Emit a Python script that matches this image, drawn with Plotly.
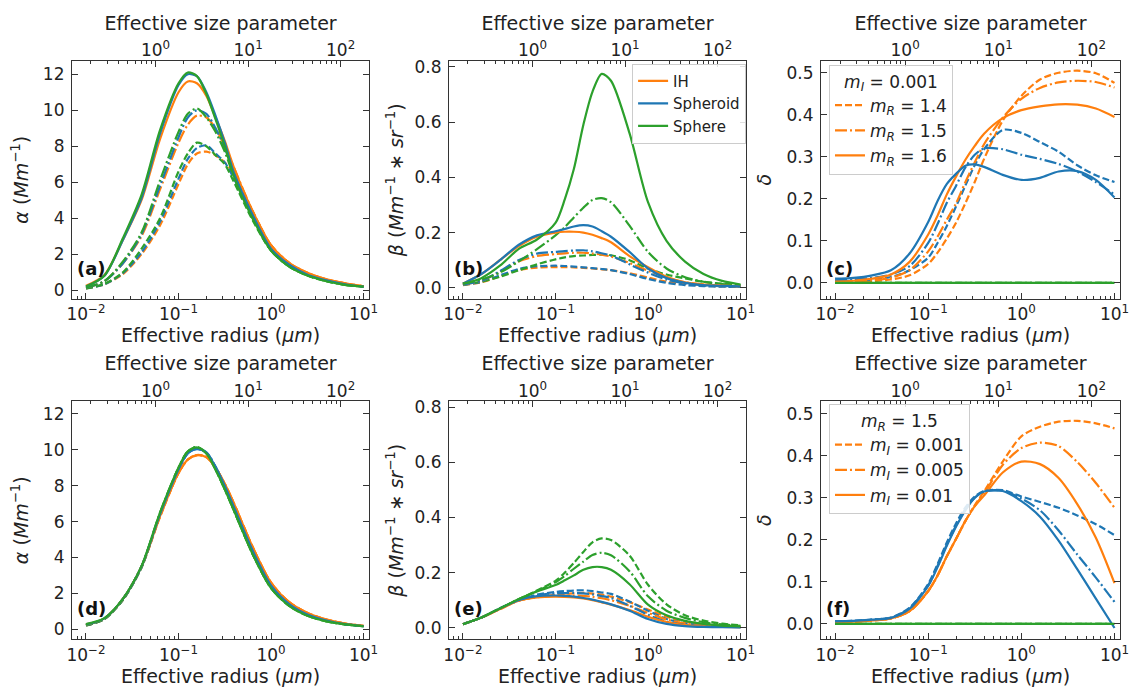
import math
import plotly.graph_objects as go

# ---------------- data ----------------
r_eff = [0.01, 0.0158, 0.0251, 0.0398, 0.0631, 0.1, 0.126, 0.158, 0.2, 0.251,
         0.316, 0.398, 0.631, 1.0, 1.585, 2.512, 3.981, 6.31, 10.0]
wavelength_um = 0.355

# (a) extinction alpha, mI = 0.001, mR = 1.4 / 1.5 / 1.6
a_IH_14 = [0.1, 0.33, 0.9, 2.0, 3.6, 5.9, 7.0, 7.6, 7.7, 7.5, 7.1, 6.5, 4.4, 2.5, 1.5, 0.95, 0.6, 0.38, 0.22]
a_SPD_14 = [0.1, 0.33, 0.95, 2.1, 3.8, 6.2, 7.3, 7.9, 8.05, 7.6, 7.1, 6.2, 4.1, 2.3, 1.4, 0.85, 0.55, 0.33, 0.2]
a_SPH_14 = [0.1, 0.35, 1.0, 2.3, 4.0, 6.6, 7.6, 8.2, 8.0, 7.5, 7.0, 6.0, 3.9, 2.2, 1.3, 0.8, 0.5, 0.3, 0.2]
a_IH_15 = [0.15, 0.5, 1.5, 3.0, 5.6, 8.2, 9.2, 9.7, 9.6, 9.0, 8.0, 6.8, 4.4, 2.5, 1.5, 0.95, 0.6, 0.38, 0.22]
a_SPD_15 = [0.15, 0.5, 1.5, 3.1, 5.8, 8.5, 9.6, 10.0, 9.8, 9.0, 7.9, 6.5, 4.2, 2.3, 1.4, 0.85, 0.55, 0.33, 0.2]
a_SPH_15 = [0.15, 0.5, 1.6, 3.2, 6.1, 8.8, 9.8, 10.1, 9.6, 8.8, 7.7, 6.3, 4.0, 2.2, 1.3, 0.8, 0.5, 0.3, 0.2]
a_IH_16 = [0.25, 0.85, 2.8, 5.0, 8.4, 11.0, 11.6, 11.5, 10.8, 9.6, 8.3, 6.8, 4.4, 2.5, 1.5, 0.95, 0.6, 0.38, 0.22]
a_SPD_16 = [0.2, 0.8, 2.8, 5.1, 8.7, 11.4, 12.0, 11.9, 11.0, 9.7, 8.2, 6.5, 4.2, 2.3, 1.4, 0.85, 0.55, 0.33, 0.2]
a_SPH_16 = [0.2, 0.8, 2.9, 5.3, 8.9, 11.5, 12.1, 11.9, 10.9, 9.5, 8.0, 6.3, 4.0, 2.2, 1.3, 0.8, 0.5, 0.3, 0.2]

# (b) backscatter beta
b_IH_14 = [0.01, 0.02, 0.042, 0.064, 0.073, 0.075, 0.075, 0.074, 0.072, 0.07, 0.067, 0.064, 0.053, 0.037, 0.022, 0.013, 0.008, 0.005, 0.004]
b_SPD_14 = [0.01, 0.022, 0.045, 0.068, 0.078, 0.08, 0.079, 0.077, 0.074, 0.071, 0.068, 0.064, 0.05, 0.032, 0.018, 0.01, 0.006, 0.004, 0.003]
b_SPH_14 = [0.012, 0.022, 0.04, 0.063, 0.085, 0.103, 0.11, 0.115, 0.117, 0.119, 0.12, 0.118, 0.1, 0.07, 0.048, 0.034, 0.022, 0.015, 0.01]
b_IH_15 = [0.012, 0.025, 0.058, 0.095, 0.115, 0.122, 0.125, 0.127, 0.127, 0.124, 0.12, 0.113, 0.09, 0.062, 0.037, 0.02, 0.012, 0.008, 0.005]
b_SPD_15 = [0.012, 0.025, 0.06, 0.1, 0.124, 0.13, 0.133, 0.135, 0.136, 0.132, 0.125, 0.117, 0.085, 0.055, 0.03, 0.016, 0.009, 0.006, 0.004]
b_SPH_15 = [0.015, 0.03, 0.055, 0.095, 0.14, 0.19, 0.22, 0.255, 0.29, 0.318, 0.325, 0.31, 0.225, 0.13, 0.07, 0.038, 0.022, 0.013, 0.008]
b_IH_16 = [0.015, 0.05, 0.1, 0.15, 0.185, 0.2, 0.203, 0.203, 0.2, 0.192, 0.18, 0.165, 0.115, 0.075, 0.04, 0.02, 0.012, 0.008, 0.006]
b_SPD_16 = [0.015, 0.05, 0.1, 0.155, 0.19, 0.205, 0.213, 0.222, 0.227, 0.222, 0.205, 0.185, 0.13, 0.07, 0.035, 0.018, 0.01, 0.007, 0.005]
b_SPH_16 = [0.015, 0.035, 0.08, 0.14, 0.175, 0.235, 0.32, 0.43, 0.59, 0.71, 0.775, 0.75, 0.56, 0.31, 0.17, 0.095, 0.05, 0.025, 0.012]

# (c) depolarization delta
c_IH_14 = [0.002, 0.003, 0.004, 0.008, 0.018, 0.045, 0.072, 0.105, 0.144, 0.19, 0.24, 0.295, 0.386, 0.445, 0.484, 0.5, 0.505, 0.499, 0.476]
c_SPD_14 = [0.004, 0.005, 0.008, 0.014, 0.03, 0.06, 0.095, 0.135, 0.183, 0.232, 0.28, 0.318, 0.364, 0.357, 0.335, 0.312, 0.28, 0.256, 0.24]
c_SPH_14 = [0.0] * 19
c_IH_15 = [0.002, 0.003, 0.006, 0.012, 0.03, 0.075, 0.11, 0.15, 0.19, 0.24, 0.287, 0.33, 0.393, 0.438, 0.464, 0.477, 0.481, 0.478, 0.465]
c_SPD_15 = [0.006, 0.008, 0.012, 0.02, 0.04, 0.095, 0.14, 0.19, 0.232, 0.275, 0.305, 0.32, 0.318, 0.305, 0.295, 0.283, 0.265, 0.24, 0.21]
c_SPH_15 = [0.0] * 19
c_IH_16 = [0.003, 0.005, 0.01, 0.02, 0.05, 0.115, 0.16, 0.21, 0.254, 0.293, 0.326, 0.355, 0.392, 0.411, 0.42, 0.425, 0.424, 0.415, 0.395]
c_SPD_16 = [0.01, 0.012, 0.018, 0.03, 0.07, 0.145, 0.195, 0.235, 0.26, 0.279, 0.282, 0.276, 0.257, 0.245, 0.25, 0.265, 0.266, 0.245, 0.203]
c_SPH_16 = [0.0] * 19

# (d) alpha, mR = 1.5, mI = 0.001 / 0.005 / 0.01
d_IH_001 = [0.22, 0.58, 1.65, 3.45, 6.25, 8.7, 9.45, 9.7, 9.6, 9.0, 8.1, 7.0, 4.6, 2.6, 1.5, 0.9, 0.55, 0.33, 0.2]
d_SPD_001 = [0.22, 0.58, 1.65, 3.45, 6.35, 8.9, 9.8, 10.05, 9.85, 9.05, 8.0, 6.8, 4.4, 2.45, 1.4, 0.82, 0.5, 0.3, 0.19]
d_SPH_001 = [0.22, 0.58, 1.65, 3.45, 6.45, 9.0, 9.9, 10.15, 9.8, 8.9, 7.8, 6.6, 4.2, 2.3, 1.3, 0.75, 0.45, 0.28, 0.18]
d_IH_005 = [0.25, 0.6, 1.7, 3.5, 6.3, 8.7, 9.45, 9.7, 9.6, 9.0, 8.1, 7.0, 4.6, 2.6, 1.5, 0.9, 0.55, 0.33, 0.2]
d_SPD_005 = [0.25, 0.6, 1.7, 3.5, 6.4, 8.9, 9.8, 10.05, 9.85, 9.05, 8.0, 6.8, 4.4, 2.45, 1.4, 0.82, 0.5, 0.3, 0.19]
d_SPH_005 = [0.25, 0.6, 1.7, 3.5, 6.5, 9.0, 9.9, 10.15, 9.8, 8.9, 7.8, 6.6, 4.2, 2.3, 1.3, 0.75, 0.45, 0.28, 0.18]
d_IH_01 = [0.28, 0.62, 1.7, 3.5, 6.3, 8.7, 9.45, 9.68, 9.58, 9.0, 8.1, 7.0, 4.6, 2.6, 1.5, 0.9, 0.55, 0.33, 0.2]
d_SPD_01 = [0.28, 0.62, 1.7, 3.5, 6.4, 8.9, 9.8, 10.03, 9.83, 9.05, 8.0, 6.8, 4.4, 2.45, 1.4, 0.82, 0.5, 0.3, 0.19]
d_SPH_01 = [0.3, 0.63, 1.72, 3.52, 6.5, 9.0, 9.9, 10.12, 9.78, 8.9, 7.8, 6.6, 4.2, 2.3, 1.3, 0.75, 0.45, 0.28, 0.18]

# (e) beta
e_IH_001 = [0.013, 0.037, 0.068, 0.098, 0.112, 0.12, 0.123, 0.125, 0.127, 0.124, 0.12, 0.113, 0.093, 0.066, 0.04, 0.022, 0.013, 0.008, 0.005]
e_SPD_001 = [0.013, 0.037, 0.07, 0.1, 0.12, 0.13, 0.133, 0.135, 0.136, 0.133, 0.128, 0.123, 0.095, 0.062, 0.032, 0.016, 0.009, 0.005, 0.003]
e_SPH_001 = [0.013, 0.037, 0.07, 0.103, 0.135, 0.17, 0.2, 0.235, 0.275, 0.31, 0.324, 0.318, 0.262, 0.156, 0.085, 0.045, 0.026, 0.015, 0.009]
e_IH_005 = [0.013, 0.037, 0.068, 0.098, 0.111, 0.116, 0.117, 0.117, 0.116, 0.112, 0.107, 0.1, 0.08, 0.054, 0.03, 0.016, 0.009, 0.005, 0.003]
e_SPD_005 = [0.013, 0.037, 0.07, 0.1, 0.118, 0.125, 0.126, 0.126, 0.125, 0.121, 0.115, 0.108, 0.08, 0.047, 0.022, 0.011, 0.006, 0.004, 0.002]
e_SPH_005 = [0.013, 0.037, 0.07, 0.103, 0.133, 0.165, 0.188, 0.214, 0.24, 0.264, 0.272, 0.263, 0.205, 0.114, 0.062, 0.036, 0.02, 0.012, 0.007]
e_IH_01 = [0.013, 0.037, 0.068, 0.098, 0.11, 0.113, 0.112, 0.11, 0.106, 0.1, 0.092, 0.084, 0.064, 0.04, 0.021, 0.01, 0.005, 0.003, 0.002]
e_SPD_01 = [0.013, 0.037, 0.07, 0.1, 0.115, 0.117, 0.116, 0.113, 0.108, 0.102, 0.094, 0.085, 0.062, 0.032, 0.014, 0.006, 0.003, 0.002, 0.001]
e_SPH_01 = [0.013, 0.037, 0.07, 0.103, 0.132, 0.155, 0.172, 0.19, 0.21, 0.22, 0.22, 0.21, 0.158, 0.084, 0.045, 0.025, 0.014, 0.008, 0.005]

# (f) delta
f_IH_001 = [0.004, 0.005, 0.008, 0.013, 0.03, 0.078, 0.115, 0.16, 0.203, 0.245, 0.282, 0.315, 0.386, 0.446, 0.469, 0.481, 0.483, 0.477, 0.465]
f_SPD_001 = [0.006, 0.007, 0.01, 0.015, 0.038, 0.095, 0.142, 0.193, 0.24, 0.277, 0.303, 0.316, 0.318, 0.303, 0.29, 0.276, 0.258, 0.237, 0.211]
f_SPH_001 = [0.0] * 19
f_IH_005 = [0.004, 0.005, 0.008, 0.013, 0.03, 0.078, 0.115, 0.16, 0.203, 0.245, 0.28, 0.31, 0.378, 0.418, 0.431, 0.423, 0.385, 0.335, 0.276]
f_SPD_005 = [0.006, 0.007, 0.01, 0.014, 0.037, 0.092, 0.138, 0.188, 0.235, 0.273, 0.3, 0.315, 0.317, 0.298, 0.27, 0.222, 0.165, 0.11, 0.052]
f_SPH_005 = [0.0] * 19
f_IH_01 = [0.004, 0.005, 0.008, 0.013, 0.03, 0.078, 0.115, 0.16, 0.203, 0.245, 0.28, 0.305, 0.36, 0.386, 0.38, 0.347, 0.285, 0.205, 0.097]
f_SPD_01 = [0.006, 0.007, 0.01, 0.014, 0.036, 0.09, 0.135, 0.185, 0.232, 0.27, 0.3, 0.315, 0.316, 0.292, 0.255, 0.198, 0.13, 0.06, -0.01]
f_SPH_01 = [0.0] * 19

model_names = ["IH", "Spheroid", "Sphere"]
top_labels = ["<i>m</i><sub><i>R</i></sub> = 1.4", "<i>m</i><sub><i>R</i></sub> = 1.5", "<i>m</i><sub><i>R</i></sub> = 1.6"]
bot_labels = ["<i>m</i><sub><i>I</i></sub> = 0.001", "<i>m</i><sub><i>I</i></sub> = 0.005", "<i>m</i><sub><i>I</i></sub> = 0.01"]
x_ticks = [0.01, 0.1, 1, 10]
x_ticktext = ["10<sup>−2</sup>", "10<sup>−1</sup>", "10<sup>0</sup>", "10<sup>1</sup>"]
sp_ticks = [1, 10, 100]
sp_ticktext = ["10<sup>0</sup>", "10<sup>1</sup>", "10<sup>2</sup>"]
alpha_ticks = [0, 2, 4, 6, 8, 10, 12]
beta_ticks = [0.0, 0.2, 0.4, 0.6, 0.8]
delta_ticks = [0.0, 0.1, 0.2, 0.3, 0.4, 0.5]

# ---------------- styling ----------------
ORANGE, BLUE, GREEN = "#ff7f0e", "#1f77b4", "#2ca02c"
COLORS = [ORANGE, BLUE, GREEN]
DASHES = ["7px,3px", "12px,3px,2px,3px", "solid"]
FONT = "DejaVu Sans"
TXT = "#222222"
AXC = "#333333"
W, H = 1135, 688
cols = [(67, 368), (449, 750), (826, 1129)]
rows = [(57, 297), (400, 640)]
xr = [-2.15, 1.06]
shift = math.log10(2 * math.pi / wavelength_um)
size_param = [2 * math.pi * r / wavelength_um for r in r_eff]

panels = [
    dict(tag="(a)", data=[[a_IH_14, a_SPD_14, a_SPH_14], [a_IH_15, a_SPD_15, a_SPH_15], [a_IH_16, a_SPD_16, a_SPH_16]],
         yr=[-0.48, 12.76], yt=alpha_ticks, fmt="{:d}", ytitle="<i>α</i> (<i>Mm</i><sup>−1</sup>)", so=9, row=0, col=0),
    dict(tag="(b)", data=[[b_IH_14, b_SPD_14, b_SPH_14], [b_IH_15, b_SPD_15, b_SPH_15], [b_IH_16, b_SPD_16, b_SPH_16]],
         yr=[-0.04, 0.823], yt=beta_ticks, fmt="{:.1f}",
         ytitle="<i>β</i> (<i>Mm</i><sup>−1</sup> ∗ <i>sr</i><sup>−1</sup>)", so=5, row=0, col=1),
    dict(tag="(c)", data=[[c_IH_14, c_SPD_14, c_SPH_14], [c_IH_15, c_SPD_15, c_SPH_15], [c_IH_16, c_SPD_16, c_SPH_16]],
         yr=[-0.038, 0.529], yt=delta_ticks, fmt="{:.1f}", ytitle="<i>δ</i>", so=9, row=0, col=2),
    dict(tag="(d)", data=[[d_IH_001, d_SPD_001, d_SPH_001], [d_IH_005, d_SPD_005, d_SPH_005], [d_IH_01, d_SPD_01, d_SPH_01]],
         yr=[-0.55, 12.7], yt=alpha_ticks, fmt="{:d}", ytitle="<i>α</i> (<i>Mm</i><sup>−1</sup>)", so=9, row=1, col=0),
    dict(tag="(e)", data=[[e_IH_001, e_SPD_001, e_SPH_001], [e_IH_005, e_SPD_005, e_SPH_005], [e_IH_01, e_SPD_01, e_SPH_01]],
         yr=[-0.042, 0.822], yt=beta_ticks, fmt="{:.1f}",
         ytitle="<i>β</i> (<i>Mm</i><sup>−1</sup> ∗ <i>sr</i><sup>−1</sup>)", so=5, row=1, col=1),
    dict(tag="(f)", data=[[f_IH_001, f_SPD_001, f_SPH_001], [f_IH_005, f_SPD_005, f_SPH_005], [f_IH_01, f_SPD_01, f_SPH_01]],
         yr=[-0.037, 0.530], yt=delta_ticks, fmt="{:.1f}", ytitle="<i>δ</i>", so=9, row=1, col=2),
]

minor_r = [m * 10.0 ** e for e in range(-3, 2) for m in range(2, 10)]
minor_sp = [m * 10.0 ** e for e in range(-2, 3) for m in range(2, 10)]


def sfx(n):
    return "" if n == 1 else str(n)


fig = go.Figure()
layout = dict(
    width=W, height=H, margin=dict(l=0, r=0, t=0, b=0),
    paper_bgcolor="white", plot_bgcolor="white",
    font=dict(family=FONT, size=17, color=TXT),
    annotations=[],
)

for i, p in enumerate(panels, start=1):
    xa, ya, xt = "x" + sfx(i), "y" + sfx(i), "x" + sfx(i + 6)
    c0, c1 = cols[p["col"]]
    r0, r1 = rows[p["row"]]
    for s in range(3):          # line style index
        for m in range(3):      # model (colour) index
            leg = None
            name = model_names[m]
            show = False
            if i == 2 and s == 2:
                leg, show = "legend", True
            elif i == 3 and m == 0:
                leg, show, name = "legend2", True, top_labels[s]
            elif i == 6 and m == 0:
                leg, show, name = "legend3", True, bot_labels[s]
            tr = dict(x=r_eff, y=p["data"][s][m], mode="lines", xaxis=xa, yaxis=ya,
                      line=dict(color=COLORS[m], width=2.2, dash=DASHES[s], shape="spline", smoothing=0.8),
                      name=name, showlegend=show, hoverinfo="skip")
            if leg:
                tr["legend"] = leg
            fig.add_trace(go.Scatter(**tr))
    # invisible trace tying the top (size parameter) axis
    fig.add_trace(go.Scatter(x=size_param, y=p["data"][2][2], mode="lines", xaxis=xt, yaxis=ya,
                             line=dict(width=0), opacity=0, showlegend=False, hoverinfo="skip"))

    layout["xaxis" + sfx(i)] = dict(
        domain=[c0 / W, c1 / W], anchor=ya, type="log", range=xr,
        tickmode="array", tickvals=x_ticks, ticktext=x_ticktext,
        ticks="inside", ticklen=6, tickwidth=1.2, tickcolor=AXC,
        minor=dict(tickmode="array", tickvals=minor_r, ticks="inside", ticklen=3, tickwidth=1, tickcolor=AXC, showgrid=False),
        showline=True, linecolor=AXC, linewidth=1.4, mirror=True,
        showgrid=False, zeroline=False, tickfont=dict(size=17),
        title=dict(text="Effective radius (<i>μm</i>)", font=dict(size=19), standoff=4),
    )
    layout["xaxis" + sfx(i + 6)] = dict(
        overlaying=xa, anchor=ya, side="top", type="log", range=[xr[0] + shift, xr[1] + shift],
        tickmode="array", tickvals=sp_ticks, ticktext=sp_ticktext,
        ticks="inside", ticklen=6, tickwidth=1.2, tickcolor=AXC,
        minor=dict(tickmode="array", tickvals=minor_sp, ticks="inside", ticklen=3, tickwidth=1, tickcolor=AXC, showgrid=False),
        showline=False, showgrid=False, zeroline=False, tickfont=dict(size=17),
        ticklabelstandoff=0,
        title=dict(text="Effective size parameter", font=dict(size=19), standoff=2),
    )
    layout["yaxis" + sfx(i)] = dict(
        domain=[1 - r1 / H, 1 - r0 / H], anchor=xa, range=p["yr"],
        tickmode="array", tickvals=p["yt"], ticktext=[p["fmt"].format(v) for v in p["yt"]],
        ticks="inside", ticklen=6, tickwidth=1.2, tickcolor=AXC,
        showline=True, linecolor=AXC, linewidth=1.4, mirror="ticks",
        showgrid=False, zeroline=False, tickfont=dict(size=17),
        ticklabelstandoff=3,
        title=dict(text=p["ytitle"], font=dict(size=19), standoff=p["so"]),
    )
    layout["annotations"].append(dict(
        text=f"<b>{p['tag']}</b>", xref=f"{xa} domain", yref=f"{ya} domain",
        x=0.01, y=0.075, xanchor="left", yanchor="bottom", showarrow=False,
        font=dict(size=18, color="#111111")))

legend_common = dict(bgcolor="rgba(255,255,255,0.85)", bordercolor="#cccccc", borderwidth=1,
                     itemwidth=30, tracegroupgap=0, traceorder="normal")
layout["legend"] = dict(x=750 / W, xanchor="right", y=1 - 60 / H, yanchor="top",
                        font=dict(size=15, color=TXT), **legend_common)
layout["legend2"] = dict(x=834 / W, xanchor="left", y=1 - 61 / H, yanchor="top",
                         font=dict(size=17, color=TXT),
                         title=dict(text="<i>m</i><sub><i>I</i></sub> = 0.001", side="top center", font=dict(size=17)),
                         **legend_common)
layout["legend3"] = dict(x=834 / W, xanchor="left", y=1 - 403 / H, yanchor="top",
                         font=dict(size=17, color=TXT),
                         title=dict(text="<i>m</i><sub><i>R</i></sub> = 1.5", side="top center", font=dict(size=17)),
                         **legend_common)

fig.update_layout(**layout)
fig.write_html("out.html", config={"displayModeBar": False},
               post_script="document.body.style.margin='0';document.body.style.overflow='hidden';")
